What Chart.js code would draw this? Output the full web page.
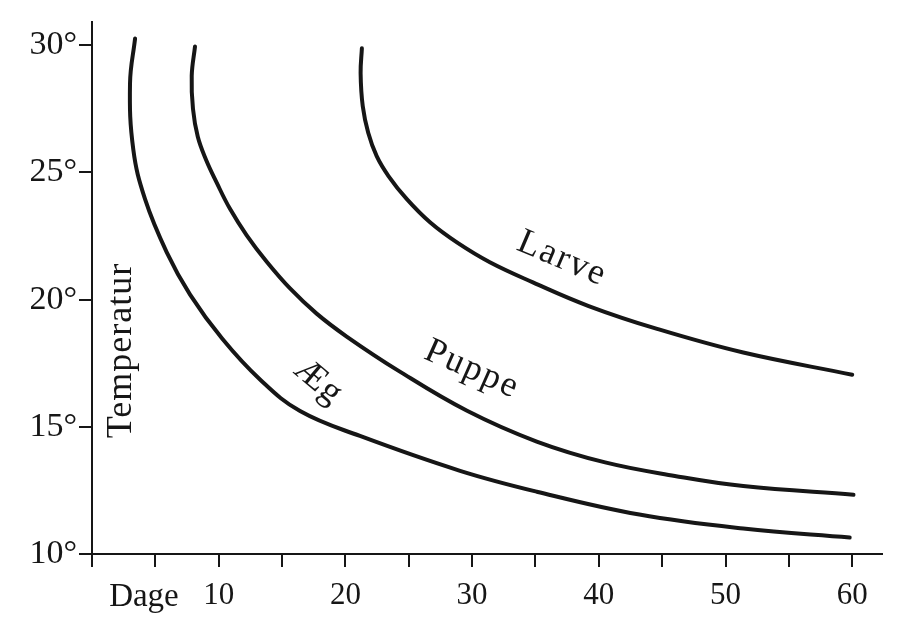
<!DOCTYPE html>
<html>
<head>
<meta charset="utf-8">
<script src="https://cdn.jsdelivr.net/npm/chart.js@4.4.1/dist/chart.umd.min.js"></script>
<style>
  html, body { margin: 0; background: #fff; }
  canvas { display: block; }
</style>
</head>
<body>
<canvas id="chart" width="912" height="624"></canvas>
<script>
// development time (days) against temperature
const aegDays    = [3.4, 3.0, 3.26, 4.18, 5.9, 7.74, 10.3, 13.26, 16.42, 21.15, 29.05, 35.1, 43.2, 51.4, 59.8];
const aegTemp    = [30.27, 28.5, 25.9, 23.96, 21.86, 20.2, 18.45, 16.86, 15.62, 14.64, 13.27, 12.45, 11.55, 11.0, 10.65];
const puppeDays  = [8.13, 7.87, 7.97, 8.35, 9.0, 9.84, 10.89, 12.21, 13.79, 15.63, 17.73, 20.1, 24.2, 29.6, 35.1, 40.5, 46.0, 51.4, 60.1];
const puppeTemp  = [29.95, 28.8, 27.5, 26.4, 25.5, 24.6, 23.57, 22.53, 21.49, 20.44, 19.45, 18.55, 17.2, 15.63, 14.42, 13.6, 13.07, 12.67, 12.33];
const larveDays  = [21.3, 21.2, 21.37, 21.8, 22.47, 23.4, 24.85, 26.7, 28.8, 31.4, 34.8, 39.2, 44.6, 51.4, 60.0];
const larveTemp  = [29.88, 28.9, 27.6, 26.56, 25.64, 24.86, 23.95, 23.03, 22.25, 21.47, 20.68, 19.75, 18.85, 17.92, 17.05];

const seriesNames = ['Æg', 'Puppe', 'Larve'];
const xTicks = [0, 5, 10, 15, 20, 25, 30, 35, 40, 45, 50, 55, 60];
const xTickLabels = ['', '', '10', '', '20', '', '30', '', '40', '', '50', '', '60'];
const yTicks = [10, 15, 20, 25, 30];
const yTickLabels = ['10°', '15°', '20°', '25°', '30°'];

const toPoints = (xs, ys) => xs.map((v, i) => ({ x: v, y: ys[i] }));

const ink = '#161616';
const serif = '"Liberation Serif", "DejaVu Serif", serif';

// text placed along the curves, in data coordinates
const annotations = [
  { text: 'Temperatur', day: 2.3,  temp: 18.0, angle: -90, size: 36, spacing: 1 },
  { text: seriesNames[0], day: 17.85, temp: 16.77, angle: 40, size: 36, spacing: 1 },
  { text: seriesNames[1], day: 30.0, temp: 17.25, angle: 24, size: 36, spacing: 2 },
  { text: seriesNames[2], day: 37.1, temp: 21.6, angle: 23, size: 36, spacing: 2 },
  { text: 'Dage', day: 4.1, temp: null, angle: 0, size: 33, spacing: 0 }
];

const textPlugin = {
  id: 'curveText',
  afterDraw(chart) {
    const { ctx, scales: { x, y } } = chart;
    annotations.forEach(a => {
      ctx.save();
      const px = x.getPixelForValue(a.day);
      const py = a.temp === null ? x.top + 43 : y.getPixelForValue(a.temp);
      ctx.translate(px, py);
      ctx.rotate(a.angle * Math.PI / 180);
      ctx.font = a.size + 'px ' + serif;
      ctx.fillStyle = ink;
      ctx.textAlign = 'center';
      ctx.textBaseline = 'middle';
      ctx.letterSpacing = a.spacing + 'px';
      ctx.fillText(a.text, 0, 0);
      ctx.restore();
    });
  }
};

const lineStyle = {
  showLine: true,
  borderColor: ink,
  borderWidth: 4,
  pointRadius: 0,
  tension: 0.4,
  fill: false,
  clip: false,
  borderCapStyle: 'round'
};

new Chart(document.getElementById('chart').getContext('2d'), {
  type: 'scatter',
  data: {
    datasets: [
      { label: seriesNames[0], data: toPoints(aegDays, aegTemp), ...lineStyle },
      { label: seriesNames[1], data: toPoints(puppeDays, puppeTemp), ...lineStyle },
      { label: seriesNames[2], data: toPoints(larveDays, larveTemp), ...lineStyle }
    ]
  },
  options: {
    responsive: false,
    animation: false,
    layout: { padding: { top: 20, right: 30, left: 0, bottom: 0 } },
    plugins: {
      legend: { display: false },
      tooltip: { enabled: false }
    },
    scales: {
      x: {
        type: 'linear',
        min: 0,
        max: 62.35,
        afterFit: scale => { scale.height = 70; },
        afterBuildTicks: scale => { scale.ticks = xTicks.map(v => ({ value: v })); },
        border: { color: ink, width: 2 },
        grid: { drawOnChartArea: false, color: ink, lineWidth: 2, tickLength: 13 },
        ticks: {
          color: ink,
          padding: 10,
          maxRotation: 0,
          autoSkip: false,
          font: { family: serif, size: 31 },
          callback: value => xTickLabels[xTicks.indexOf(value)]
        }
      },
      y: {
        type: 'linear',
        min: 10,
        max: 30.9,
        afterFit: scale => { scale.width = 92; },
        afterBuildTicks: scale => { scale.ticks = yTicks.map(v => ({ value: v })); },
        border: { color: ink, width: 2 },
        grid: { drawOnChartArea: false, color: ink, lineWidth: 2, tickLength: 13 },
        ticks: {
          color: ink,
          padding: 2,
          autoSkip: false,
          font: { family: serif, size: 34 },
          callback: value => yTickLabels[yTicks.indexOf(value)]
        }
      }
    }
  },
  plugins: [textPlugin]
});
</script>
</body>
</html>
